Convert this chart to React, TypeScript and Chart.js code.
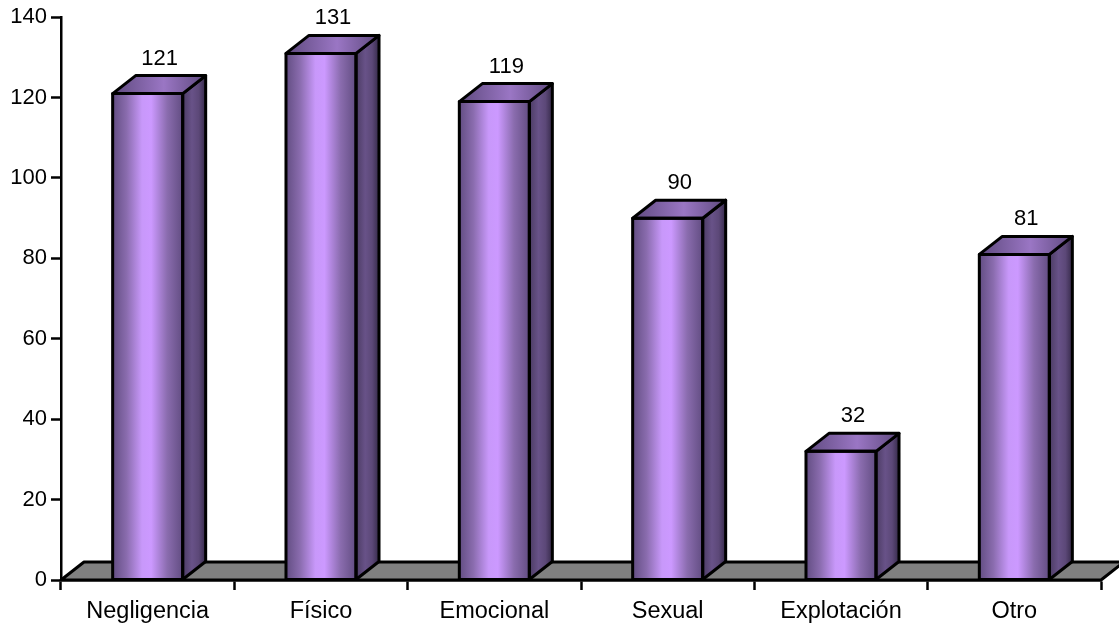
import React, { useEffect, useRef } from "react";
import { Chart, registerables } from "chart.js";

Chart.register(...registerables);

const categories = ["Negligencia", "Físico", "Emocional", "Sexual", "Explotación", "Otro"];
const casos = [121, 131, 119, 90, 32, 81];

const FONT = '"Liberation Sans", Arial, sans-serif';
const DEPTH_X = 23;
const DEPTH_Y = 18;
const BAR_SHARE = 0.404;

function polygon(ctx: CanvasRenderingContext2D, pts: number[][], fill: string | CanvasGradient | null, lineWidth = 3) {
  ctx.beginPath();
  pts.forEach(([x, y], i) => (i ? ctx.lineTo(x, y) : ctx.moveTo(x, y)));
  ctx.closePath();
  if (fill) {
    ctx.fillStyle = fill;
    ctx.fill();
  }
  ctx.lineWidth = lineWidth;
  ctx.strokeStyle = "#000";
  ctx.lineJoin = "round";
  ctx.stroke();
}

// Bands of colour across a width, dark at the edges and bright at the middle.
function band(ctx: CanvasRenderingContext2D, x0: number, x1: number, stops: [number, string][]) {
  const g = ctx.createLinearGradient(x0, 0, x1, 0);
  stops.forEach(([o, c]) => g.addColorStop(o, c));
  return g;
}

const FRONT: [number, string][] = [[0, "#624d82"], [0.2, "#8a6cae"], [0.42, "#c898fa"], [0.55, "#cc99ff"], [0.78, "#8a6cae"], [1, "#624d82"]];
const SIDE: [number, string][] = [[0, "#4c3c64"], [0.4, "#685288"], [0.7, "#5c4878"], [1, "#362a4a"]];
const TOP: [number, string][] = [[0, "#5f4a7f"], [0.55, "#9a76c4"], [1, "#5f4a7f"]];

// Floor slab behind the columns, then depth faces and value captions on top of them.
const depthPlugin = {
  id: "depth",
  beforeDatasetsDraw(chart: Chart) {
    const { ctx, chartArea: a } = chart;
    const base = chart.scales.y.getPixelForValue(0);
    ctx.save();
    polygon(ctx, [
      [a.left, base],
      [a.left + DEPTH_X, base - DEPTH_Y],
      [a.right + DEPTH_X, base - DEPTH_Y],
      [a.right, base],
    ], "#808080");
    ctx.restore();
  },
  afterDatasetsDraw(chart: Chart) {
    const { ctx } = chart;
    const meta = chart.getDatasetMeta(0);
    ctx.save();
    meta.data.forEach((el: any, i: number) => {
      const half = el.width / 2;
      const l = el.x - half;
      const r = el.x + half;
      const top = el.y;
      const base = el.base;
      polygon(ctx, [
        [r, top],
        [r + DEPTH_X, top - DEPTH_Y],
        [r + DEPTH_X, base - DEPTH_Y],
        [r, base],
      ], band(ctx, r, r + DEPTH_X, SIDE));
      polygon(ctx, [
        [l, top],
        [l + DEPTH_X, top - DEPTH_Y],
        [r + DEPTH_X, top - DEPTH_Y],
        [r, top],
      ], band(ctx, l, r + DEPTH_X, TOP));
      polygon(ctx, [[l, top], [r, top], [r, base], [l, base]], null);
      ctx.fillStyle = "#000";
      ctx.font = `22px ${FONT}`;
      ctx.textAlign = "center";
      ctx.textBaseline = "alphabetic";
      ctx.fillText(String(casos[i]), el.x + DEPTH_X / 2 + 0.5, top - DEPTH_Y - 11);
    });
    ctx.restore();
  },
};

export default function App() {
  const ref = useRef<HTMLCanvasElement>(null);

  useEffect(() => {
    document.body.style.margin = "0";
    const chart = new Chart(ref.current!, {
      type: "bar",
      data: {
        labels: categories,
        datasets: [
          {
            data: casos,
            barPercentage: 1,
            categoryPercentage: BAR_SHARE,
            borderWidth: 0,
            backgroundColor: (c: any) => {
              const { chart: ch, dataIndex } = c;
              if (dataIndex === undefined || !ch.chartArea) return "#cc99ff";
              const cx = ch.scales.x.getPixelForValue(dataIndex);
              const half = (ch.chartArea.width / categories.length) * BAR_SHARE / 2;
              return band(ch.ctx, cx - half, cx + half, FRONT);
            },
          },
        ],
      },
      options: {
        responsive: false,
        animation: false,
        layout: { padding: { top: 16, right: 18, left: 0, bottom: 0 } },
        plugins: { legend: { display: false }, tooltip: { enabled: false } },
        scales: {
          x: {
            offset: true,
            afterFit: (s: any) => { s.height = 45; },
            border: { display: true, color: "#000", width: 2.5 },
            grid: { display: true, drawOnChartArea: false, drawTicks: true, tickLength: 10, tickColor: "#000", tickWidth: 2.5, offset: true },
            ticks: { color: "#000", font: { family: FONT, size: 23.5 }, padding: 7, maxRotation: 0, autoSkip: false },
          },
          y: {
            min: 0,
            max: 140,
            afterFit: (s: any) => { s.width = 61; },
            border: { display: true, color: "#000", width: 2.5 },
            grid: { display: true, drawOnChartArea: false, drawTicks: true, tickLength: 10, tickColor: "#000", tickWidth: 2.5 },
            ticks: { color: "#000", font: { family: FONT, size: 22 }, padding: 4, stepSize: 20 },
          },
        },
      },
      plugins: [depthPlugin],
    } as any);
    return () => chart.destroy();
  }, []);

  return <canvas ref={ref} width={1119} height={625} style={{ display: "block" }} />;
}
